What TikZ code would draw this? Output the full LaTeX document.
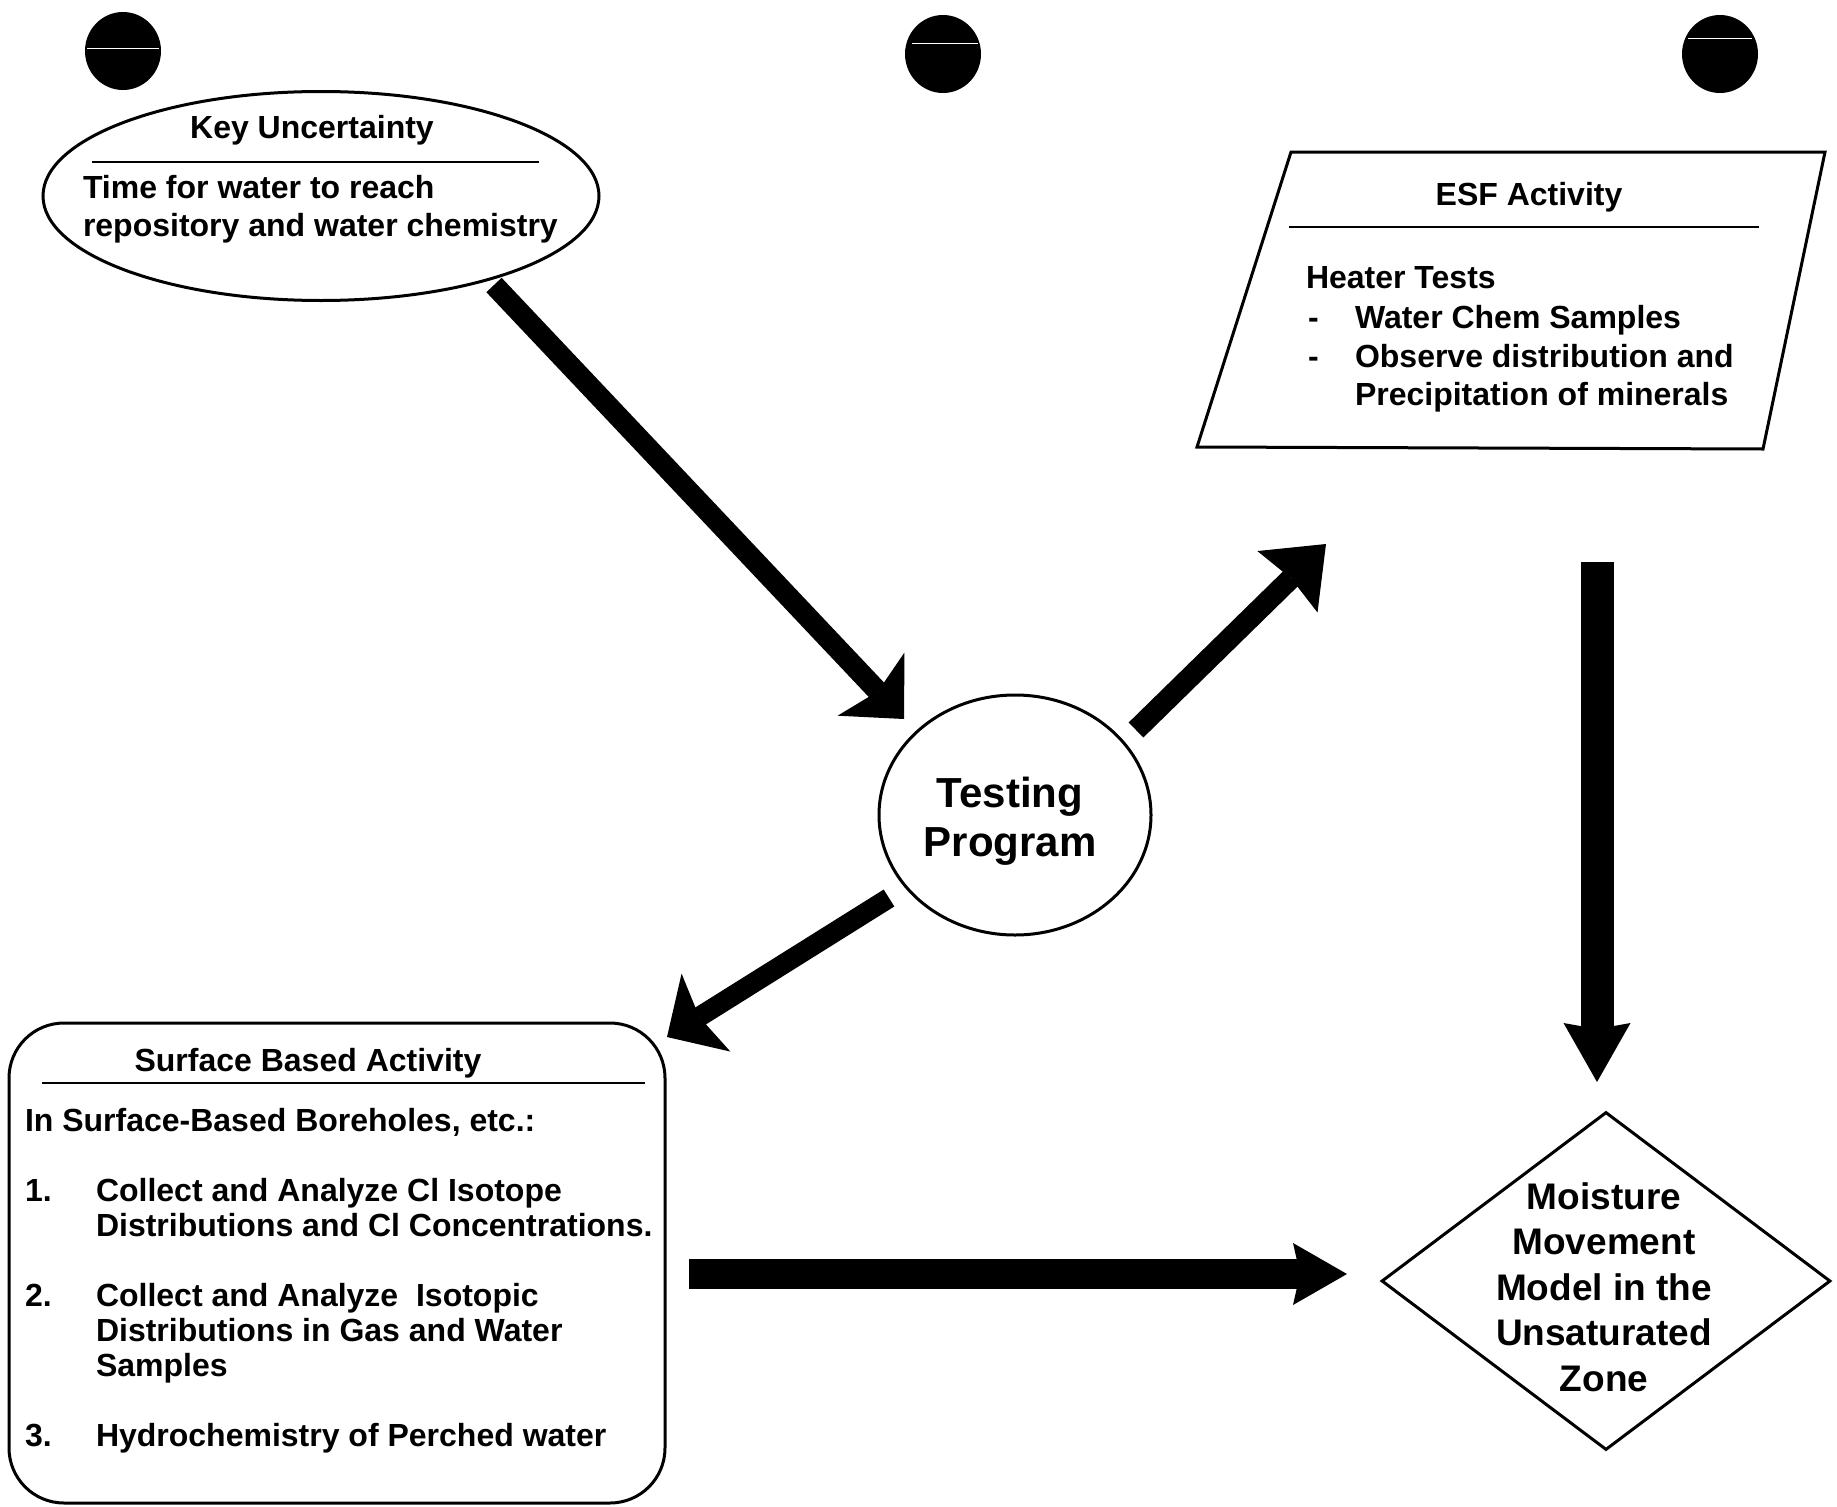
\documentclass[tikz,border=0pt]{standalone}
\usepackage{fontspec}
\setmainfont{Liberation Sans}
\usetikzlibrary{arrows.meta,shapes.geometric}
\begin{document}
\begin{tikzpicture}[x=1pt,y=-1pt,
  txt/.style={font=\fontsize{32}{38}\selectfont\bfseries, inner sep=0pt, outer sep=0pt},
  bigtxt/.style={font=\fontsize{42}{49}\selectfont\bfseries, inner sep=0pt, outer sep=0pt},
  dtxt/.style={font=\fontsize{37}{45}\selectfont\bfseries, inner sep=0pt, outer sep=0pt},
  bd/.style={line width=3pt},
  rule/.style={line width=2.5pt},
  dot/.style={ellipse, fill=black, minimum width=76pt, minimum height=78pt, inner sep=0pt},
  scanline/.style={white, line width=1pt},
  bigarrow/.style n args={4}{line width=#1, -{Stealth[length=#2, width=#3, inset=#4, line width=0pt]}}
]
\useasboundingbox[fill=white] (0,0) rectangle (1837,1507);

% black dots
\node[dot] (d1) at (123,51) {};
\node[dot] (d2) at (943,54) {};
\node[dot] (d3) at (1720,54) {};
\draw[scanline] (87,48) -- (159,48);
\draw[scanline] (912,43) -- (978,43);
\draw[scanline] (1688,38) -- (1752,38);

% Key Uncertainty ellipse
\node[ellipse, draw, bd, minimum width=556pt, minimum height=209pt, inner sep=0pt] (ku) at (321,196) {};
\node[txt, anchor=base] (kut) at (312,138) {Key Uncertainty};
\draw[rule] (92,162) -- (539,162);
\node[txt, anchor=base west] (ku1) at (83,198) {Time for water to reach};
\node[txt, anchor=base west] (ku2) at (83,236) {repository and water chemistry};

% ESF Activity quadrilateral
\coordinate (esfA) at (1291,152);
\coordinate (esfB) at (1825,152);
\coordinate (esfC) at (1763,449);
\coordinate (esfD) at (1197,447);
\draw[bd, line join=miter] (esfA) -- (esfB) -- (esfC) -- (esfD) -- cycle;
\node[txt, anchor=base] (esft) at (1529,205) {ESF Activity};
\draw[rule] (1289,227) -- (1759,227);
\node[txt, anchor=base west] (e1) at (1306,288) {Heater Tests};
\node[txt, anchor=base west] (e2d) at (1308,328) {-};
\node[txt, anchor=base west] (e2) at (1355,328) {Water Chem Samples};
\node[txt, anchor=base west] (e3d) at (1308,367) {-};
\node[txt, anchor=base west] (e3) at (1355,367) {Observe distribution and};
\node[txt, anchor=base west] (e4) at (1355,405) {Precipitation of minerals};

% Testing Program
\node[ellipse, draw, bd, minimum width=272pt, minimum height=240pt, inner sep=0pt] (tp) at (1015,815) {};
\node[bigtxt, anchor=base] (tp1) at (1010,807) {Testing};
\node[bigtxt, anchor=base] (tp2) at (1010,856) {Program};

% Surface Based Activity box
\node[draw, bd, rounded corners=55pt, minimum width=656pt, minimum height=480pt, inner sep=0pt] (sb) at (337,1263) {};
\node[txt, anchor=base] (sbt) at (308,1071) {Surface Based Activity};
\draw[rule] (42,1083) -- (645,1083);
\node[txt, anchor=base west] (s0) at (25,1131) {In Surface-Based Boreholes, etc.:};
\node[txt, anchor=base west] (s1n) at (25,1201) {1.};
\node[txt, anchor=base west] (s1a) at (96,1201) {Collect and Analyze Cl Isotope};
\node[txt, anchor=base west] (s1b) at (96,1236) {Distributions and Cl Concentrations.};
\node[txt, anchor=base west] (s2n) at (25,1306) {2.};
\node[txt, anchor=base west] (s2a) at (96,1306) {Collect and Analyze~ Isotopic};
\node[txt, anchor=base west] (s2b) at (96,1341) {Distributions in Gas and Water};
\node[txt, anchor=base west] (s2c) at (96,1376) {Samples};
\node[txt, anchor=base west] (s3n) at (25,1446) {3.};
\node[txt, anchor=base west] (s3a) at (96,1446) {Hydrochemistry of Perched water};

% Moisture Movement diamond
\node[diamond, draw, bd, minimum width=449pt, minimum height=338pt, inner sep=0pt] (mm) at (1606,1281) {};
\node[dtxt, anchor=base] (m1) at (1604,1209) {Moisture};
\node[dtxt, anchor=base] (m2) at (1604,1254) {Movement};
\node[dtxt, anchor=base] (m3) at (1604,1300) {Model in the};
\node[dtxt, anchor=base] (m4) at (1604,1345) {Unsaturated};
\node[dtxt, anchor=base] (m5) at (1604,1391) {Zone};

% arrows
\coordinate (a1s) at (494,285);  \coordinate (a1e) at (904,719);
\coordinate (a2s) at (1136,730); \coordinate (a2e) at (1326,544);
\coordinate (a3s) at (889,898);  \coordinate (a3e) at (667,1037);
\coordinate (a4s) at (1597,562); \coordinate (a4e) at (1597,1082);
\coordinate (a5s) at (689,1274); \coordinate (a5e) at (1347,1274);
\draw[bigarrow={21pt}{48pt}{92pt}{10pt}] (a1s) -- (a1e);
\draw[bigarrow={21pt}{54pt}{86pt}{5pt}] (a2s) -- (a2e);
\draw[bigarrow={20pt}{46pt}{92pt}{8pt}] (a3s) -- (a3e);
\draw[bigarrow={33pt}{59pt}{67pt}{6pt}] (a4s) -- (a4e);
\draw[bigarrow={30pt}{54pt}{62pt}{7pt}] (a5s) -- (a5e);
\end{tikzpicture}
\end{document}
